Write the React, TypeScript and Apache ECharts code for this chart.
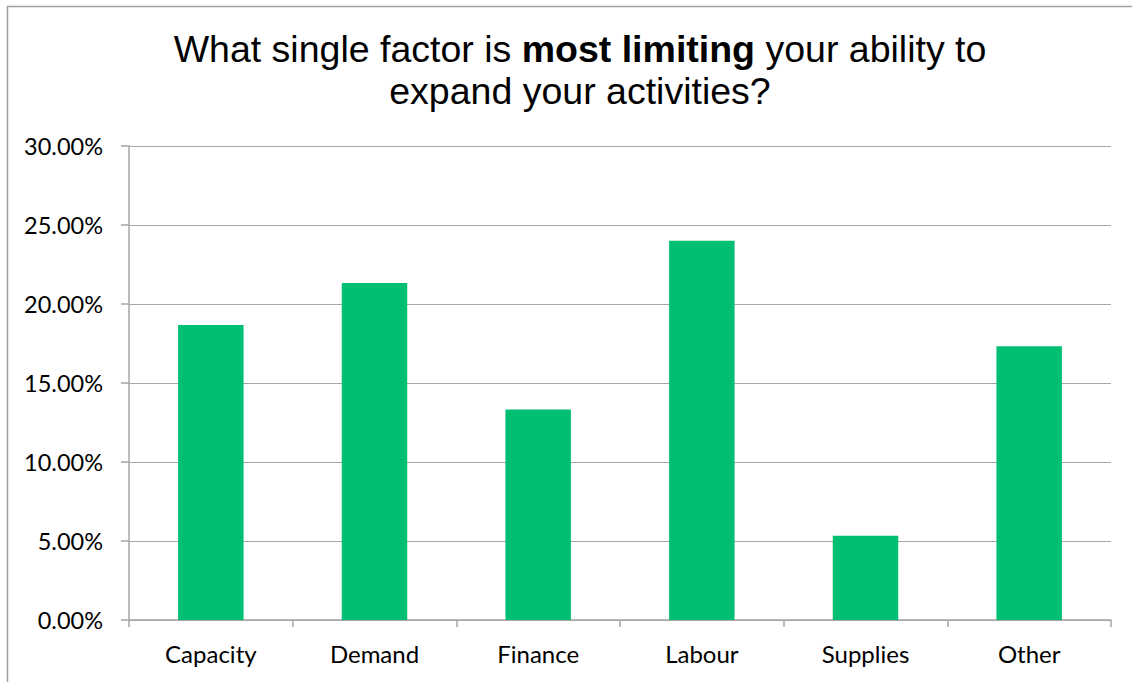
import React, { useEffect, useRef } from "react";
import * as echarts from "echarts";

const categories = ["Capacity", "Demand", "Finance", "Labour", "Supplies", "Other"];
const values = [0.1867, 0.2133, 0.1333, 0.24, 0.0533, 0.1733];
const yTicks = { min: 0, max: 0.3, interval: 0.05 };

export default function App() {
  const ref = useRef<HTMLDivElement>(null);
  useEffect(() => {
    if (!ref.current) return;
    const chart = echarts.init(ref.current, null, { renderer: "svg" });
    chart.setOption({
      animation: false,
      backgroundColor: "#ffffff",
      title: {
        text: "{a|What single factor is }{b|most limiting}{a| your ability to}\n{a|expand your activities?}",
        left: 575,
        top: 23,
        textAlign: "center",
        textStyle: {
          fontWeight: "normal",
          rich: {
            a: { fontFamily: "Liberation Sans", fontSize: 37.5, fontWeight: "normal", color: "#000", lineHeight: 42 },
            b: { fontFamily: "Liberation Sans", fontSize: 37.5, fontWeight: "bold", color: "#000", lineHeight: 42 },
          },
        },
      },
      graphic: [
        {
          type: "rect",
          shape: { x: 7.5, y: 6.5, width: 1130, height: 700 },
          style: { fill: "none", stroke: "#a0a0a0", lineWidth: 1.5 },
          silent: true,
        },
      ],
      grid: { left: 129, right: 21, top: 146, bottom: 62 },
      xAxis: {
        type: "category",
        data: categories,
        axisLine: { lineStyle: { color: "#a6a6a6", width: 1.5 } },
        axisTick: { show: true, length: 7, lineStyle: { color: "#a6a6a6", width: 1.5 } },
        axisLabel: { color: "#000", fontFamily: "Lato", fontSize: 24, margin: 21 },
      },
      yAxis: {
        type: "value",
        min: yTicks.min,
        max: yTicks.max,
        interval: yTicks.interval,
        axisLine: { show: true, lineStyle: { color: "#a6a6a6", width: 1.5 } },
        axisTick: { show: true, length: 8, lineStyle: { color: "#a6a6a6", width: 1.5 } },
        splitLine: { lineStyle: { color: "#a6a6a6", width: 1 } },
        axisLabel: {
          color: "#000",
          fontFamily: "Lato",
          fontSize: 23.5,
          margin: 26,
          formatter: (v: number) => (v * 100).toFixed(2) + "%",
        },
      },
      series: [
        {
          type: "bar",
          data: values,
          barCategoryGap: "60%",
          itemStyle: { color: "#00BF72" },
        },
      ],
    });
    return () => chart.dispose();
  }, []);
  return (
    <div
      ref={ref}
      style={{ position: "absolute", left: 0, top: 0, width: 1132, height: 682 }}
    />
  );
}
